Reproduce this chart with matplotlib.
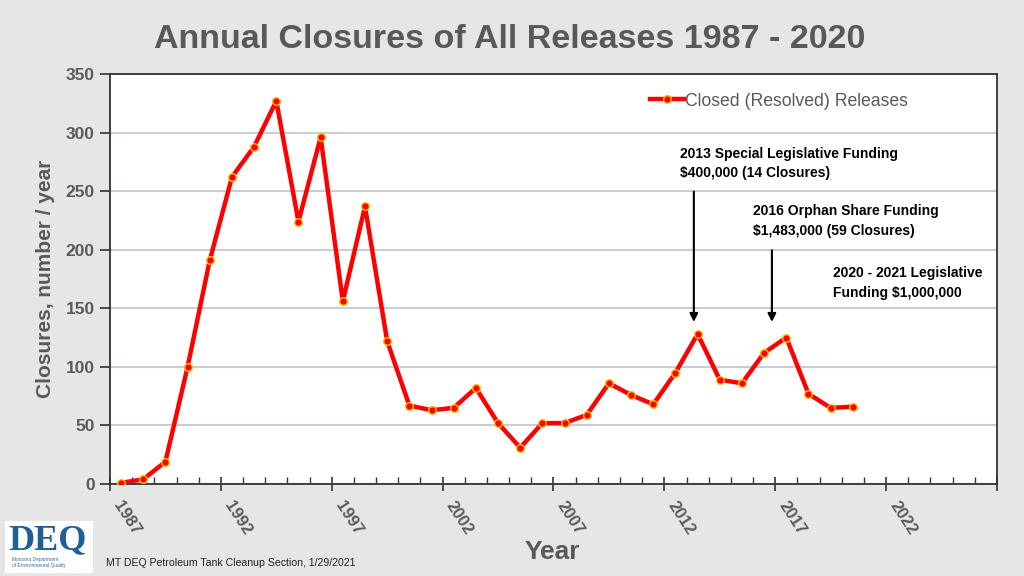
import matplotlib
matplotlib.use("Agg")
import matplotlib.pyplot as plt
from matplotlib.patches import Rectangle

plt.rcParams['font.family'] = ['Liberation Sans Narrow', 'Liberation Sans', 'DejaVu Sans']

years = list(range(1987, 2021))
closures = [1, 4, 19, 100, 191, 262, 288, 327, 224, 296,
            156, 237, 122, 67, 63, 65, 82, 52, 31, 52,
            52, 59, 86, 76, 68, 95, 128, 89, 86, 112,
            125, 77, 65, 66]
tick_years = [1987, 1992, 1997, 2002, 2007, 2012, 2017, 2022]

# (text, text x, text top y)
notes = [
    ("2013 Special Legislative Funding\n$400,000 (14 Closures)", 2012.2, 288),
    ("2016 Orphan Share Funding\n$1,483,000 (59 Closures)", 2015.5, 239),
    ("2020 - 2021 Legislative\nFunding $1,000,000", 2019.1, 186),
]
# (arrow x, start y, tip y)
arrows = [(2012.83, 252, 136), (2016.35, 202, 136)]

gray = '#595959'
bg = '#e6e6e6'

fig = plt.figure(figsize=(10.24, 5.76), dpi=100, facecolor=bg)
ax = fig.add_axes([0.1074, 0.1597, 0.8662, 0.7118])
ax.set_facecolor('white')

ax.plot(years, closures, color='#ff0000', lw=3.2, marker='o', markersize=5.5,
        markerfacecolor='#ff0000', markeredgecolor='#ffc000', markeredgewidth=1,
        label='Closed (Resolved) Releases', zorder=3)

ax.set_xlim(1986.5, 2026.5)
ax.set_ylim(0, 350)
ax.set_yticks(range(0, 351, 50))
ax.set_xticks([y - 0.5 for y in range(1987, 2028, 5)])
ax.set_xticks([y - 0.5 for y in range(1987, 2027)], minor=True)
ax.set_xticklabels([])
ax.grid(axis='y', color='#c9ced6', lw=1.5, zorder=0)
for s in ax.spines.values():
    s.set_color('#333333')
    s.set_linewidth(1.3)
ax.tick_params(axis='y', direction='out', length=7, width=1.2, colors='#333333',
               labelcolor=gray, labelsize=12.5, pad=4)
ax.tick_params(axis='x', which='major', direction='inout', length=10, width=1.2, colors='#333333')
ax.tick_params(axis='x', which='minor', direction='in', length=5, width=1, colors='#333333')
for lab in ax.get_yticklabels():
    lab.set_fontweight('bold')

for yr in tick_years:
    ax.text(yr + 0.1, -12, str(yr), rotation=-57, rotation_mode='anchor',
            ha='left', va='top', fontsize=12, fontweight='bold', color=gray,
            clip_on=False)

ax.set_ylabel('Closures, number / year', fontsize=15, fontweight='bold', color=gray)
ax.yaxis.set_label_coords(-0.062, 0.5)

for text, xt, yt in notes:
    ax.text(xt, yt, text, fontsize=10, fontweight='bold', color='black',
            ha='left', va='top', linespacing=1.5)
for xa, y0, y1 in arrows:
    ax.annotate('', xy=(xa, y1), xytext=(xa, y0),
                arrowprops=dict(arrowstyle='-|>', color='black', lw=1.5, mutation_scale=12))

leg = ax.legend(loc='upper left', bbox_to_anchor=(0.595, 0.985), frameon=False,
                fontsize=12.7, handlelength=1.9, handletextpad=0.1, borderaxespad=0.3)
for t in leg.get_texts():
    t.set_color(gray)

fig.text(0.498, 0.932, 'Annual Closures of All Releases 1987 - 2020', ha='center', va='center',
         fontsize=24.5, fontweight='bold', color=gray)
fig.text(0.539, 0.042, 'Year', ha='center', va='center', fontsize=19, fontweight='bold', color=gray)
fig.text(0.104, 0.023, 'MT DEQ Petroleum Tank Cleanup Section, 1/29/2021', ha='left', va='center',
         fontsize=7.6, color='#222222')

# logo
fig.patches.append(Rectangle((0.005, 0.005), 0.086, 0.09, transform=fig.transFigure,
                             facecolor='white', edgecolor='none'))
fig.text(0.046, 0.062, 'DEQ', ha='center', va='center', fontsize=26, fontweight='bold',
         family=['Liberation Serif', 'DejaVu Serif'], color='#1f5f94')
fig.text(0.012, 0.024, 'Montana Department\nof Environmental Quality', ha='left', va='center',
         fontsize=3.5, color='#3a6f9c', linespacing=1.3)

fig.savefig('out.png', dpi=100, facecolor=bg)
